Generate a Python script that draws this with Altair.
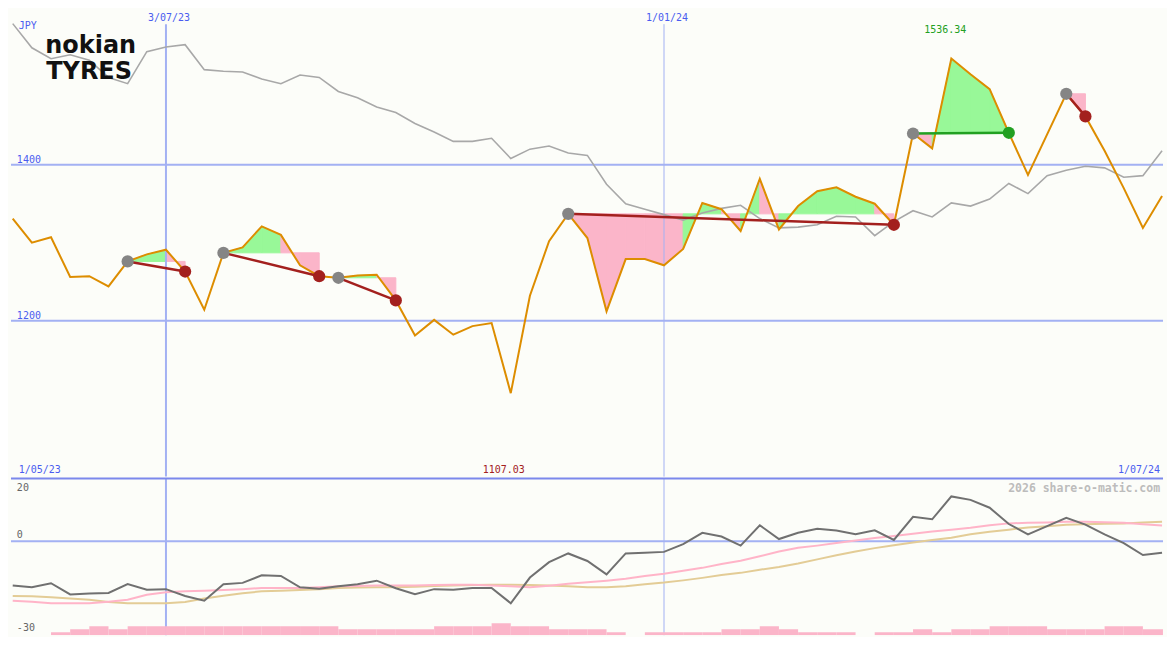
import altair as alt
import pandas as pd

# ---------------- data (weekly, week index 0 = 8 May 2023 ... 60 = 1 Jul 2024) ----------------
price = [1331, 1300, 1307, 1256, 1257, 1244, 1276, 1285, 1291, 1263,
         1214, 1287, 1294, 1321, 1310, 1271, 1257, 1255, 1258, 1259,
         1226, 1181, 1201, 1182, 1193, 1197, 1107.03, 1232, 1302, 1337,
         1306, 1212, 1279, 1279, 1271, 1292, 1351, 1343, 1315, 1382,
         1317, 1347, 1366, 1371, 1359, 1350, 1323, 1440, 1421, 1536.34,
         1516, 1497, 1441, 1387, 1439, 1491, 1462, 1418, 1370, 1319, 1360]

bench = [1581, 1550, 1536, 1541, 1534, 1512, 1504, 1545, 1551, 1554,
         1522, 1520, 1519, 1510, 1504, 1515, 1512, 1494, 1486, 1474,
         1467, 1453, 1442, 1430, 1430, 1434, 1408, 1420, 1424, 1415,
         1412, 1375, 1350, 1343, 1336, 1329, 1338, 1344, 1348, 1331,
         1319, 1320, 1323, 1334, 1333, 1309, 1327, 1341, 1333, 1351,
         1347, 1356, 1376, 1363, 1386, 1393, 1398, 1396, 1384, 1386, 1418]

osc = [-14.1, -14.7, -13.4, -17.0, -16.7, -16.5, -13.7, -15.5, -15.3, -17.5,
       -19.0, -13.7, -13.3, -10.9, -11.1, -14.7, -15.2, -14.4, -13.7, -12.6,
       -15.0, -16.9, -15.3, -15.5, -14.9, -14.9, -19.8, -11.6, -6.7, -3.9,
       -6.3, -10.6, -3.9, -3.7, -3.4, -0.9, 2.7, 1.5, -1.4, 5.1,
       0.7, 2.7, 4.0, 3.4, 2.2, 3.5, 0.4, 7.8, 7.0, 14.3,
       13.2, 10.7, 5.5, 2.2, 4.8, 7.5, 5.3, 2.2, -0.6, -4.4, -3.7]

sig = [-19.0, -19.3, -19.8, -19.8, -19.8, -19.3, -18.7, -17.1, -16.3, -16.0,
       -15.8, -15.6, -15.3, -14.9, -14.9, -14.9, -14.7, -14.4, -14.3, -14.1,
       -14.1, -14.1, -14.0, -13.9, -13.9, -14.1, -14.4, -14.7, -14.2, -13.6,
       -13.1, -12.6, -12.0, -11.1, -10.4, -9.4, -8.5, -7.3, -6.2, -4.8,
       -3.3, -2.1, -1.4, -0.6, 0.2, 1.0, 1.7, 2.4, 3.1, 3.7,
       4.3, 5.1, 5.7, 5.9, 6.0, 6.2, 6.2, 6.1, 5.9, 5.4, 5.0]

slow = [-17.5, -17.6, -17.9, -18.3, -18.7, -19.4, -19.8, -19.8, -19.8, -19.4,
        -18.3, -17.4, -16.6, -16.0, -15.8, -15.6, -15.3, -14.9, -14.8, -14.7,
        -14.7, -14.5, -14.3, -14.1, -14.0, -13.9, -13.9, -14.0, -14.1, -14.4,
        -14.7, -14.7, -14.4, -13.7, -13.2, -12.5, -11.7, -10.8, -10.1, -9.1,
        -8.2, -7.1, -5.8, -4.5, -3.3, -2.2, -1.3, -0.4, 0.4, 1.1,
        2.2, 3.0, 3.7, 4.4, 4.8, 5.3, 5.4, 5.6, 5.7, 6.0, 6.2]

vol = [0, 0, 1, 2, 3, 2, 3, 3, 3, 3,
       3, 3, 3, 3, 3, 3, 3, 2, 2, 2,
       2, 2, 3, 3, 3, 4, 3, 3, 2, 2,
       2, 1, 0, 1, 1, 1, 1, 2, 2, 3,
       2, 1, 1, 1, 0, 1, 1, 2, 1, 2,
       2, 3, 3, 3, 2, 2, 2, 3, 3, 2, 2]

entries = [6, 11, 17, 29, 47, 55]
exits = [9, 16, 20, 46, 52, 56]

grid_idx = [8, 34]
grid_lbl = ["3/07/23", "1/01/24"]
grid_w = [2, 1]
price_levels = [1400, 1200]
logo_words = ["nokian", "TYRES"]

# ---------------- style ----------------
W, H1, H2 = 1155, 469, 157
SX, SY1, SY2 = W / 1175, H1 / 487, H2 / 163
BG = "#fcfdf9"
GRID = "#a3b1f3"
SEP = "#7b88ec"
BLUE_TXT = "#4a5cf0"
ORANGE = "#dd8d00"
GRAY = "#a8a8a8"
GREEN_FILL = "#98f898"
PINK_FILL = "#fbb5c9"
LOSS = "#a3201e"
WIN = "#22a022"
ENTRY = "#858585"
MONO = "DejaVu Sans Mono"

X = alt.Scale(domain=[-0.09, 60.05], nice=False, zero=False)
YU = alt.Scale(domain=[1000, 1600], nice=False, zero=False)
YL = alt.Scale(domain=[-30, 20], nice=False, zero=False)


def xq(f="i"):
    return alt.X(f"{f}:Q", scale=X, axis=None)


def yu(f="v"):
    return alt.Y(f"{f}:Q", scale=YU, axis=None)


def yl(f="v"):
    return alt.Y(f"{f}:Q", scale=YL, axis=None)


idx = list(range(len(price)))
main_df = pd.DataFrame({"i": idx, "price": price, "bench": bench})
low_df = pd.DataFrame({"i": idx, "osc": osc, "sig": sig, "slow": slow})
vol_df = pd.DataFrame({"i": idx, "i2": [k + 1 for k in idx],
                       "b": [-30] * len(idx), "top": [-30 + 0.95 * q for q in vol],
                       "q": vol})
vol_df = vol_df[vol_df["q"] > 0]

fill_rows, trend_rows, dot_rows = [], [], []
for t, (a, b) in enumerate(zip(entries, exits)):
    base = price[a]
    won = price[b] > base
    for k in range(a, b):
        col = GREEN_FILL if price[k + 1] >= base else PINK_FILL
        seg = f"{t}-{k}"
        fill_rows.append(dict(seg=seg, i=k, v=price[k], base=base, col=col))
        fill_rows.append(dict(seg=seg, i=k + 1, v=price[k + 1], base=base, col=col))
    tc = WIN if won else LOSS
    trend_rows.append(dict(t=t, i=a, v=price[a], col=tc))
    trend_rows.append(dict(t=t, i=b, v=price[b], col=tc))
    dot_rows.append(dict(i=a, v=price[a], col=ENTRY))
    dot_rows.append(dict(i=b, v=price[b], col=tc))
fill_df = pd.DataFrame(fill_rows)
trend_df = pd.DataFrame(trend_rows)
dot_df = pd.DataFrame(dot_rows)
grid_df = pd.DataFrame({"i": grid_idx, "t": grid_lbl, "w": grid_w})
lvl_df = pd.DataFrame({"v": price_levels, "t": [str(p) for p in price_levels]})


def one(text, **extra):
    d = {"t": [text]}
    d.update({k: [v] for k, v in extra.items()})
    return pd.DataFrame(d)


def text_mark(df, color, size=10, align="left", baseline="alphabetic", weight="normal",
              dx=0, dy=0, font=MONO):
    return alt.Chart(df).mark_text(color=color, fontSize=size, align=align, baseline=baseline,
                                   fontWeight=weight, dx=dx, dy=dy, font=font)


# ---------------- upper panel ----------------
fills = alt.Chart(fill_df).mark_area(opacity=1, strokeWidth=1).encode(
    x=xq(), y=yu("v"), y2=alt.Y2("base:Q"),
    color=alt.Color("col:N", scale=None), stroke=alt.Stroke("col:N", scale=None),
    detail="seg:N")
vgrid_u = alt.Chart(grid_df).mark_rule(color=GRID).encode(
    x=xq(), y=alt.value(16 * SY1), y2=alt.value(H1),
    strokeWidth=alt.StrokeWidth("w:Q", scale=None))
hgrid = alt.Chart(lvl_df).mark_rule(color=GRID, strokeWidth=2).encode(y=yu("v"))
bench_line = alt.Chart(main_df).mark_line(color=GRAY, strokeWidth=1.6, clip=True).encode(
    x=xq(), y=yu("bench"))
price_line = alt.Chart(main_df).mark_line(color=ORANGE, strokeWidth=2).encode(
    x=xq(), y=yu("price"))
trend = alt.Chart(trend_df).mark_line(strokeWidth=2.5).encode(
    x=xq(), y=yu("v"), color=alt.Color("col:N", scale=None), detail="t:N")
dots = alt.Chart(dot_df).mark_circle(size=150, opacity=1).encode(
    x=xq(), y=yu("v"), color=alt.Color("col:N", scale=None))

grid_txt = text_mark(grid_df, BLUE_TXT, align="center", dx=3).encode(
    x=xq(), y=alt.value(13 * SY1), text="t:N")
lvl_txt = text_mark(lvl_df, BLUE_TXT, dy=-2).encode(
    x=alt.value(6 * SX), y=yu("v"), text="t:N")
jpy_txt = text_mark(one("JPY"), BLUE_TXT).encode(
    x=alt.value(8 * SX), y=alt.value(21 * SY1), text="t:N")
imax = price.index(max(price))
imin = price.index(min(price))
max_txt = text_mark(one(f"{max(price):.2f}", i=imax), WIN, align="center", dx=-6).encode(
    x=xq(), y=alt.value(25.5 * SY1), text="t:N")
min_txt = text_mark(one(f"{min(price):.2f}", i=imin), LOSS, align="center", dx=-7).encode(
    x=xq(), y=alt.value(483.5 * SY1), text="t:N")
start_txt = text_mark(one("1/05/23"), BLUE_TXT).encode(
    x=alt.value(8 * SX), y=alt.value(483.5 * SY1), text="t:N")
end_txt = text_mark(one("1/07/24"), BLUE_TXT, align="right").encode(
    x=alt.value(1172 * SX), y=alt.value(483.5 * SY1), text="t:N")

logo_top = text_mark(one(logo_words[0]), "#111111", size=24, weight="bold",
                     font="DejaVu Sans").encode(
    x=alt.value(35 * SX), y=alt.value(46 * SY1), text="t:N")
logo_bot = text_mark(one(logo_words[1]), "#111111", size=24, weight="bold",
                     font="DejaVu Sans").encode(
    x=alt.value(36 * SX), y=alt.value(73 * SY1), text="t:N")

upper = alt.layer(
    fills, vgrid_u, hgrid, bench_line, price_line, trend, dots,
    grid_txt, lvl_txt, jpy_txt, max_txt, min_txt, start_txt, end_txt, logo_top, logo_bot
).properties(width=W, height=H1)

# ---------------- lower panel ----------------
vgrid_l = alt.Chart(grid_df).mark_rule(color=GRID).encode(
    x=xq(), strokeWidth=alt.StrokeWidth("w:Q", scale=None))
zero = alt.Chart(one("0", v=0)).mark_rule(color=GRID, strokeWidth=2).encode(y=yl("v"))
sep = alt.Chart(one("", v=20)).mark_rule(color=SEP, strokeWidth=2).encode(y=yl("v"))
bars = alt.Chart(vol_df).mark_rect(color=PINK_FILL, clip=True).encode(
    x=xq("i"), x2="i2:Q", y=yl("b"), y2="top:Q")
slow_line = alt.Chart(low_df).mark_line(color="#e3cc96", strokeWidth=2).encode(
    x=xq(), y=yl("slow"))
sig_line = alt.Chart(low_df).mark_line(color="#ffb4c8", strokeWidth=2).encode(
    x=xq(), y=yl("sig"))
osc_line = alt.Chart(low_df).mark_line(color="#707070", strokeWidth=2).encode(
    x=xq(), y=yl("osc"))
wm = text_mark(one("2026 share-o-matic.com"), "#bcbcbc", size=11.5, align="right",
               weight="bold").encode(x=alt.value(1172 * SX), y=alt.value(13.7 * SY2), text="t:N")
l20 = text_mark(one("20"), "#666666").encode(
    x=alt.value(6 * SX), y=alt.value(13 * SY2), text="t:N")
l0 = text_mark(one("0", v=0), "#666666", dy=-3).encode(
    x=alt.value(6 * SX), y=yl("v"), text="t:N")
l30 = text_mark(one("-30"), "#666666").encode(
    x=alt.value(6 * SX), y=alt.value(159 * SY2), text="t:N")

lower = alt.layer(
    vgrid_l, zero, bars, slow_line, sig_line, osc_line, sep, wm, l20, l0, l30
).properties(width=W, height=H2)

chart = alt.vconcat(upper, lower, spacing=0, padding=0).configure(
    background=BG).configure_view(stroke=None)

chart.save("out.html", embed_options={"renderer": "svg", "actions": False})
